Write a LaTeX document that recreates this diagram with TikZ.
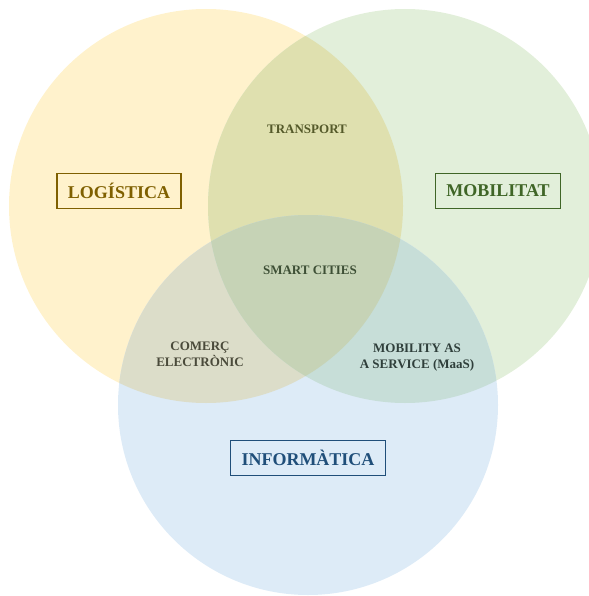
\documentclass[tikz,border=0pt]{standalone}
\usepackage{fontspec}
\setmainfont{Liberation Serif}
\definecolor{cy}{HTML}{FFF2CC}
\definecolor{cg}{HTML}{E2EFDA}
\definecolor{cb}{HTML}{DDEBF7}
\definecolor{cyg}{HTML}{DFE0AF}
\definecolor{cyb}{HTML}{DCDDC9}
\definecolor{cgb}{HTML}{C7DED8}
\definecolor{cygb}{HTML}{C6D3B6}
\definecolor{tgold}{HTML}{7F6000}
\definecolor{tgreen}{HTML}{3F6526}
\definecolor{tblue}{HTML}{1F4E79}
\definecolor{ttr}{HTML}{555A2A}
\definecolor{tsc}{HTML}{3E5036}
\definecolor{tce}{HTML}{4A4A3A}
\definecolor{tma}{HTML}{2F3F3B}
\tikzset{
  mainlabel/.style={draw=#1, text=#1, line width=1.3pt, font=\fontsize{18}{20}\selectfont\bfseries,
    inner xsep=11pt, inner ysep=0pt, minimum height=35pt},
  sublabel/.style={text=#1, font=\fontsize{13}{16}\selectfont\bfseries, align=center, inner sep=0pt}
}
\begin{document}
\begin{tikzpicture}[x=1pt,y=-1pt]
\useasboundingbox (0,0) rectangle (588,596);
\def\Yc{(206,206) circle[radius=197pt]}
\def\Gc{(405,206) circle[radius=197pt]}
\def\Bc{(308,405) circle[radius=190pt]}
\fill[cy] \Yc;
\fill[cg] \Gc;
\fill[cb] \Bc;
\begin{scope}\clip \Yc; \fill[cyg] \Gc;\end{scope}
\begin{scope}\clip \Yc; \fill[cyb] \Bc;\end{scope}
\begin{scope}\clip \Gc; \fill[cgb] \Bc;\end{scope}
\begin{scope}\clip \Yc; \clip \Gc; \fill[cygb] \Bc;\end{scope}
\node[mainlabel=tgold] (log) at (119,191) {LOGÍSTICA};
\node[mainlabel=tgreen] (mob) at (498,191) {MOBILITAT};
\node[mainlabel=tblue] (inf) at (308,458) {INFORMÀTICA};
\node[sublabel=ttr] (tra) at (307,129) {TRANSPORT};
\node[sublabel=tsc] (sc) at (310,270) {SMART CITIES};
\node[sublabel=tce] (ce) at (200,354) {COMERÇ\\ELECTRÒNIC};
\node[sublabel=tma] (ma) at (417,358) {MOBILITY AS\\A SERVICE (MaaS)};
\end{tikzpicture}
\end{document}
